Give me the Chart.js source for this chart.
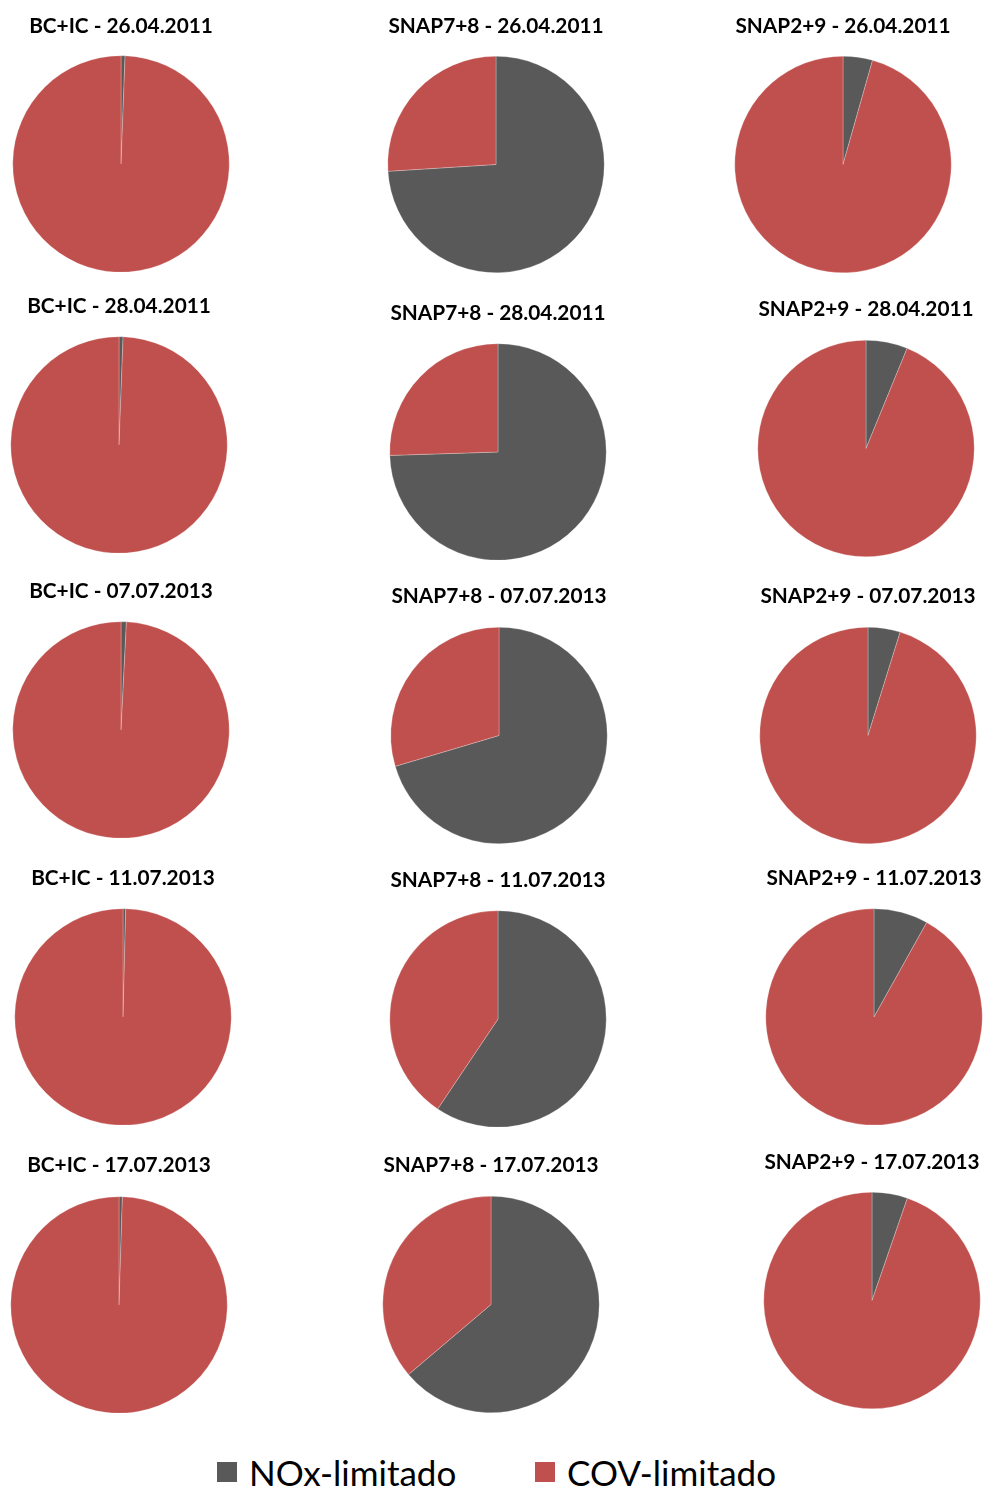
<!DOCTYPE html>
<html>
<head>
<meta charset="utf-8">
<script src="https://cdn.jsdelivr.net/npm/chart.js@4.4.1/dist/chart.umd.min.js"></script>
<style>
    body { margin: 0; background: #fff; }
    #page { position: relative; width: 983px; height: 1490px; }
    .pie-box { position: absolute; width: 280px; }
    #legend {
        position: absolute; top: 1452px; left: 0; width: 983px; height: 40px;
        font-family: Lato, "Open Sans", sans-serif; font-size: 35px; color: #000;
    }
    .lg-item { position: absolute; top: 0; line-height: 40px; white-space: nowrap; }
    .lg-swatch { position: absolute; top: 10px; width: 20px; height: 20px; }
    .lg-text { position: absolute; left: 32px; top: 0; }
</style>
</head>
<body>
<div id="page">
    <div id="legend"></div>
</div>
<script>
// Chart data
const sectors = ["BC+IC", "SNAP7+8", "SNAP2+9"];
const dates = ["26.04.2011", "28.04.2011", "07.07.2013", "11.07.2013", "17.07.2013"];
const regimes = ["NOx-limitado", "COV-limitado"];

// share (%) of NOx-limited cells, row by row (BC+IC, SNAP7+8, SNAP2+9)
const noxShare = [
    0.6, 74.0, 4.4,
    0.6, 74.5, 6.2,
    0.8, 70.4, 4.8,
    0.4, 59.4, 8.1,
    0.5, 63.8, 5.3,
];
// share (%) of VOC-limited cells
const covShare = [
    99.4, 26.0, 95.6,
    99.4, 25.5, 93.8,
    99.2, 29.6, 95.2,
    99.6, 40.6, 91.9,
    99.5, 36.2, 94.7,
];

const colors = ["#595959", "#C0504D"];

// Layout: title centre y, pie centre x / y for each panel
const titleY = [26, 26, 26, 306, 313, 309, 591, 596, 596, 878, 880, 878, 1165, 1165, 1162];
const pieX = [120.5, 496, 843, 119, 497.5, 866, 120.5, 499, 868, 122.5, 497.5, 873.5, 119, 491, 871.5];
const pieY = [163.5, 164, 164, 444.5, 451.5, 448, 729.5, 735, 735, 1016.5, 1018.5, 1016.5, 1304.5, 1304, 1300];
const radius = 108.5;

const titleFont = { family: "Lato, 'Open Sans', sans-serif", size: 20.8, weight: "bold" };
const titleLine = 1.2;

let page = document.getElementById("page");

for (let r = 0; r < dates.length; r++) {
    for (let c = 0; c < sectors.length; c++) {
        let i = r * sectors.length + c;
        let lineH = titleFont.size * titleLine;
        let top = titleY[i] - lineH / 2;
        let padBottom = pieY[i] - radius - (top + lineH);
        let areaSize = radius * 2;

        let box = document.createElement("div");
        box.className = "pie-box";
        box.style.left = (pieX[i] - 140) + "px";
        box.style.top = top + "px";
        box.style.height = (lineH + padBottom + areaSize) + "px";
        let cv = document.createElement("canvas");
        box.appendChild(cv);
        page.appendChild(box);

        new Chart(cv, {
            type: "pie",
            data: {
                labels: regimes,
                datasets: [
                    {
                        data: [noxShare[i], covShare[i]],
                        backgroundColor: colors,
                        borderColor: "rgba(255, 255, 255, .5)",
                        borderWidth: 0.5,
                    },
                ],
            },
            options: {
                responsive: true,
                maintainAspectRatio: false,
                animation: false,
                layout: { padding: 0 },
                plugins: {
                    legend: { display: false },
                    tooltip: { enabled: false },
                    title: {
                        display: true,
                        text: sectors[c] + " - " + dates[r],
                        color: "#000",
                        font: { ...titleFont, lineHeight: titleLine },
                        padding: { top: 0, bottom: padBottom },
                    },
                },
            },
        });
    }
}

// Shared legend
let legendEl = document.getElementById("legend");
let legendX = [217, 535];
regimes.forEach(function (name, k) {
    let item = document.createElement("div");
    item.className = "lg-item";
    item.style.left = legendX[k] + "px";
    item.innerHTML = '<span class="lg-swatch" style="background:' + colors[k] + '"></span>' +
        '<span class="lg-text">' + name + "</span>";
    legendEl.appendChild(item);
});
</script>
</body>
</html>
